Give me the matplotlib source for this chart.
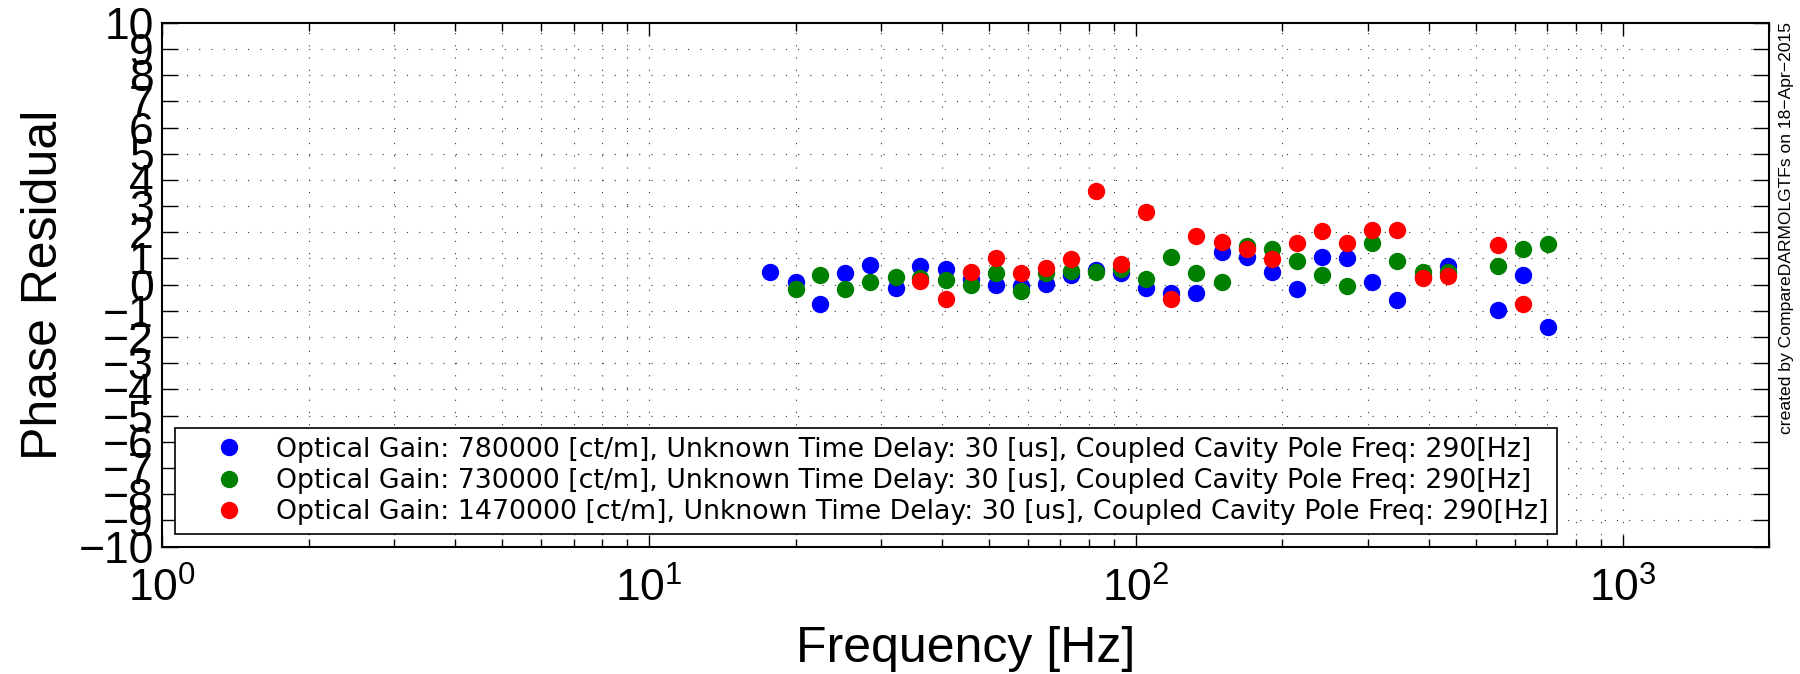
import numpy as np
import matplotlib.pyplot as plt
from matplotlib.ticker import LogLocator, NullFormatter

plt.rcParams['font.family'] = ['Liberation Sans', 'DejaVu Sans']
plt.rcParams['mathtext.fontset'] = 'custom'
plt.rcParams['mathtext.rm'] = 'Liberation Sans'
plt.rcParams['mathtext.it'] = 'Liberation Sans:italic'

# frequencies (Hz)
freq = [17.7, 20.0, 22.5, 25.3, 28.5, 32.1, 36.1, 40.7, 45.8, 51.6, 58.1,
        65.4, 73.6, 82.9, 93.3, 105, 118, 133, 150, 169, 190, 214, 241,
        272, 306, 344, 388, 437, 554, 624, 702]

nan = np.nan
resid_blue = [0.47, 0.11, -0.74, 0.43, 0.75, -0.11, 0.71, 0.60, 0.21, -0.01,
              -0.05, 0.01, 0.36, 0.56, 0.46, -0.13, -0.30, -0.33, 1.26, 1.07,
              0.47, -0.15, 1.07, 1.03, 0.09, -0.58, 0.31, 0.73, -0.97, 0.38,
              -1.60]
resid_green = [nan, -0.16, 0.37, -0.18, 0.09, 0.31, 0.24, 0.18, -0.02, 0.46,
               -0.23, 0.43, 0.54, 0.50, 0.59, 0.23, 1.06, 0.46, 0.10, 1.47,
               1.35, 0.92, 0.36, -0.05, 1.60, 0.90, 0.50, 0.50, 0.73, 1.37,
               1.57]
resid_red = [nan, nan, nan, nan, nan, nan, 0.14, -0.55, 0.50, 1.01, 0.46,
             0.62, 0.97, 3.59, 0.79, 2.76, -0.56, 1.86, 1.63, 1.35, 0.99,
             1.60, 2.06, 1.58, 2.09, 2.08, 0.24, 0.33, 1.52, -0.74, nan]

labels = [
    'Optical Gain: 780000 [ct/m], Unknown Time Delay: 30 [us], Coupled Cavity Pole Freq: 290[Hz]',
    'Optical Gain: 730000 [ct/m], Unknown Time Delay: 30 [us], Coupled Cavity Pole Freq: 290[Hz]',
    'Optical Gain: 1470000 [ct/m], Unknown Time Delay: 30 [us], Coupled Cavity Pole Freq: 290[Hz]',
]
colors = ['#0000ff', '#008000', '#ff0000']

fig = plt.figure(figsize=(18, 6.74), dpi=100)
ax = fig.add_axes([0.09, 0.1889, 0.893, 0.7774])

for y, c, lab in zip([resid_blue, resid_green, resid_red], colors, labels):
    ax.semilogx(freq, y, 'o', color=c, markeredgecolor=c, markersize=11.5,
                label=lab, zorder=3)

ax.set_xlim(1, 2000)
ax.set_ylim(-10, 10)
ax.set_yticks(np.arange(-10, 11, 1))
ax.xaxis.set_minor_locator(LogLocator(base=10, subs=np.arange(2, 10)))
ax.xaxis.set_minor_formatter(NullFormatter())

grid_style = dict(linestyle=(0, (1, 10)), color='0.2', linewidth=0.8)
ax.grid(True, which='major', **grid_style)
ax.grid(True, which='minor', axis='x', **grid_style)

ax.tick_params(which='both', direction='in', top=True, right=True, width=1)
ax.tick_params(axis='y', which='major', length=11.5, labelsize=32, pad=6)
ax.tick_params(axis='x', which='major', length=9, labelsize=32, pad=15)
ax.tick_params(axis='x', which='minor', length=5.5)
for s in ax.spines.values():
    s.set_linewidth(1.5)

ax.set_xlabel('Frequency [Hz]', fontsize=36)
ax.set_ylabel('Phase Residual', fontsize=36)
ax.xaxis.set_label_coords(0.5, -0.152)
ax.yaxis.set_label_coords(-0.059, 0.5)

# legend text in the original is wide and short, DejaVu fits that better
leg = ax.legend(loc='lower left', bbox_to_anchor=(0.008, 0.024),
                borderaxespad=0, numpoints=1,
                prop={'family': 'DejaVu Sans', 'size': 19.3},
                handlelength=3.35, handletextpad=0.08, labelspacing=0.2,
                borderpad=0.33, fancybox=False, framealpha=1,
                edgecolor='black')
leg.get_frame().set_linewidth(1.2)

fig.text(0.9925, 0.661, 'created by CompareDARMOLGTFs on 18\u2212Apr\u22122015',
         rotation=90, ha='center', va='center', fontsize=12.6)

fig.savefig('out.png', dpi=100)
